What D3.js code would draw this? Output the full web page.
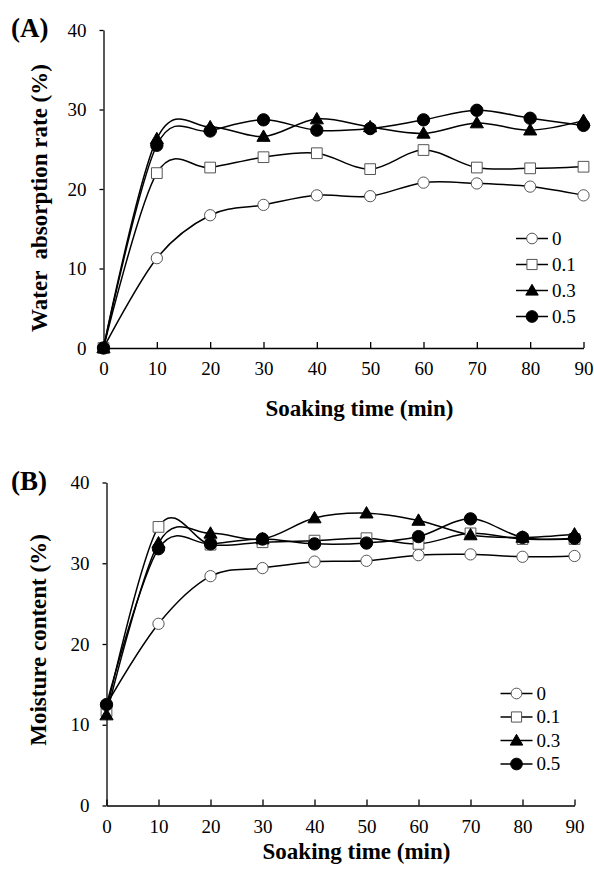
<!DOCTYPE html>
<meta charset="utf-8">
<style>
body { margin: 0; background: #fff; }
svg text { font-family: "Liberation Serif", "Times New Roman", serif; fill: #000; }
.axis path, .axis line { stroke: #000; stroke-width: 1.3px; }
.axis text { font-size: 19px; font-family: "Liberation Serif", serif; }
.ttl { font-weight: bold; white-space: pre; }
</style>
<body>
<svg id="fig" width="594" height="869"></svg>
<script src="https://d3js.org/d3.v7.min.js"></script>
<script>
// soaking time (min)
var times = [0, 10, 20, 30, 40, 50, 60, 70, 80, 90];
var levels = ["0", "0.1", "0.3", "0.5"];
var xTicks = [0, 10, 20, 30, 40, 50, 60, 70, 80, 90];
var yTicks = [0, 10, 20, 30, 40];

// (A) water absorption rate (%)
var absorb0  = [0, 11.3, 16.7, 18.0, 19.2, 19.1, 20.8, 20.7, 20.3, 19.2];
var absorb01 = [0, 22.0, 22.7, 24.0, 24.5, 22.5, 24.9, 22.7, 22.6, 22.8];
var absorb03 = [0, 26.3, 27.8, 26.6, 28.8, 27.8, 27.0, 28.3, 27.4, 28.6];
var absorb05 = [0, 25.5, 27.3, 28.7, 27.4, 27.6, 28.7, 29.9, 28.9, 28.0];

// (B) moisture content (%)
var moist0  = [12.5, 22.5, 28.4, 29.4, 30.2, 30.3, 31.0, 31.1, 30.8, 30.9];
var moist01 = [11.7, 34.5, 32.3, 32.6, 32.8, 33.1, 32.4, 33.7, 33.0, 33.0];
var moist03 = [11.2, 32.5, 33.7, 33.0, 35.6, 36.2, 35.3, 33.5, 33.2, 33.6];
var moist05 = [12.5, 31.8, 32.4, 33.0, 32.4, 32.5, 33.3, 35.5, 33.2, 33.1];

var svg = d3.select("#fig");

// marker look per level
var markers = [
  {type: d3.symbolCircle,   size: 100, fill: "#fff", stroke: "#555"},
  {type: d3.symbolSquare,   size: 115, fill: "#fff", stroke: "#555"},
  {type: d3.symbolTriangle, size: 75,  fill: "#000", stroke: "#000"},
  {type: d3.symbolCircle,   size: 120, fill: "#000", stroke: "#000"}
];

function drawPanel(opt) {
  var x = d3.scaleLinear().domain([0, 90]).range([opt.left, opt.right]);
  var y = d3.scaleLinear().domain([0, 40]).range([opt.bottom, opt.top]);
  var g = svg.append("g");

  // axes
  g.append("g").attr("class", "axis")
    .attr("transform", "translate(0," + opt.bottom + ")")
    .call(d3.axisBottom(x).tickValues(xTicks).tickSize(-6).tickSizeOuter(0).tickPadding(14))
    .call(function(a) { a.selectAll("text").attr("dy", "0.71em"); });
  g.append("g").attr("class", "axis")
    .attr("transform", "translate(" + opt.left + ",0)")
    .call(d3.axisLeft(y).tickValues(yTicks).tickSize(4).tickSizeOuter(0).tickPadding(13));

  // panel letter
  g.append("text").attr("class", "ttl").attr("x", 11).attr("y", opt.top + 7)
    .style("font-size", "27px").text(opt.letter);

  // titles
  g.append("text").attr("class", "ttl")
    .attr("transform", "translate(" + opt.yTitleX + "," + opt.yTitleY + ") rotate(-90)")
    .attr("text-anchor", "middle").style("font-size", "23px").text(opt.yTitle);
  g.append("text").attr("class", "ttl")
    .attr("x", (opt.left + opt.right) / 2 + 16).attr("y", opt.xTitleY)
    .attr("text-anchor", "middle").style("font-size", "23px").text("Soaking time (min)");

  var line = d3.line()
    .x(function(d, i) { return x(times[i]); })
    .y(function(d) { return y(d); })
    .curve(d3.curveCardinal.tension(0));

  opt.series.forEach(function(vals, k) {
    g.append("path").attr("d", line(vals))
      .attr("fill", "none").attr("stroke", "#000").attr("stroke-width", 1.5);
  });
  opt.series.forEach(function(vals, k) {
    var m = markers[k];
    g.selectAll(null).data(vals).enter().append("path")
      .attr("d", d3.symbol().type(m.type).size(m.size))
      .attr("transform", function(d, i) {
        var dy = m.type === d3.symbolTriangle ? 1 : 0;
        return "translate(" + x(times[i]) + "," + (y(d) + dy) + ")";
      })
      .attr("fill", m.fill).attr("stroke", m.stroke).attr("stroke-width", 1);
  });

  // legend
  var lg = g.append("g");
  levels.forEach(function(lab, k) {
    var m = markers[k];
    var ry = opt.legY + k * opt.legGap;
    lg.append("line").attr("x1", opt.legX - 16).attr("x2", opt.legX + 16)
      .attr("y1", ry).attr("y2", ry).attr("stroke", "#000").attr("stroke-width", 1.5);
    lg.append("path").attr("d", d3.symbol().type(m.type).size(m.size * 0.9))
      .attr("transform", "translate(" + opt.legX + "," + (ry + (m.type === d3.symbolTriangle ? 1 : 0)) + ")")
      .attr("fill", m.fill).attr("stroke", m.stroke).attr("stroke-width", 1);
    lg.append("text").attr("x", opt.legX + 20).attr("y", ry).attr("dy", "0.34em")
      .style("font-size", opt.legFont + "px").text(lab);
  });
}

drawPanel({
  letter: "(A)", left: 103.5, right: 583.5, top: 30, bottom: 348,
  yTitle: "Water  absorption rate (%)", yTitleX: 47, yTitleY: 198, xTitleY: 416,
  series: [absorb0, absorb01, absorb03, absorb05],
  legX: 532, legY: 238.5, legGap: 26, legFont: 19
});

drawPanel({
  letter: "(B)", left: 106.5, right: 574.5, top: 482.5, bottom: 805.5,
  yTitle: "Moisture content (%)", yTitleX: 46, yTitleY: 640, xTitleY: 859,
  series: [moist0, moist01, moist03, moist05],
  legX: 516.5, legY: 693.5, legGap: 23.5, legFont: 19
});
</script>
</body>
